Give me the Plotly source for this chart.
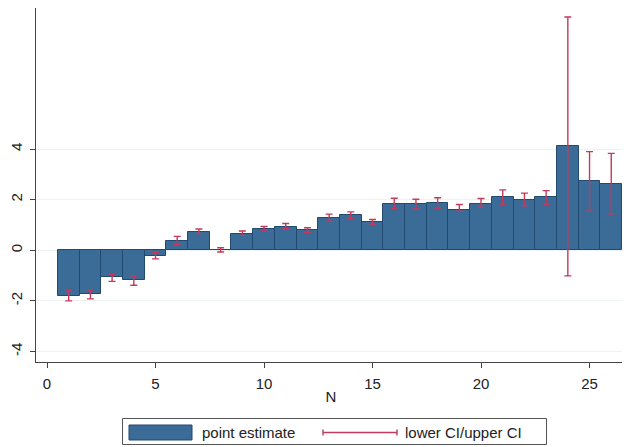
import plotly.graph_objects as go

N = list(range(1, 27))
estimate = [-1.80, -1.73, -1.06, -1.19, -0.21, 0.35, 0.72, 0.03, 0.66, 0.83,
            0.94, 0.79, 1.27, 1.39, 1.12, 1.84, 1.82, 1.88, 1.61, 1.84,
            2.09, 2.00, 2.09, 4.11, 2.72, 2.64]
upper_ci = [-1.60, -1.57, -0.96, -1.02, -0.08, 0.55, 0.84, 0.10, 0.76, 0.94,
            1.06, 0.89, 1.43, 1.52, 1.22, 2.06, 2.02, 2.08, 1.81, 2.05,
            2.39, 2.26, 2.36, 9.22, 3.90, 3.83]
lower_ci = [-2.00, -1.92, -1.23, -1.38, -0.34, 0.22, 0.66, -0.07, 0.59, 0.76,
            0.85, 0.71, 1.15, 1.25, 1.02, 1.65, 1.63, 1.67, 1.55, 1.70,
            1.81, 1.76, 1.81, -1.01, 1.55, 1.44]
y_ticks = [-4, -2, 0, 2, 4]
y_tick_labels = ["-4", "-2", "0", "2", "4"]
x_ticks = [0, 5, 10, 15, 20, 25]

BAR = "#3b6b97"
EDGE = "#22496f"
CI = "#c33a5c"
FONT = "Liberation Sans, Arial, sans-serif"

err_plus = [u - e for u, e in zip(upper_ci, estimate)]
err_minus = [e - l for e, l in zip(estimate, lower_ci)]

fig = go.Figure()
fig.add_trace(go.Bar(
    x=N, y=estimate, width=1.0,
    marker=dict(color=BAR, line=dict(color=EDGE, width=1)),
    error_y=dict(type="data", symmetric=False, array=err_plus, arrayminus=err_minus,
                 color=CI, thickness=1.4, width=3.5),
    name="point estimate", showlegend=False,
))

# page is offset by the 8px body margin; figure is sized to fit the window
W, H = 622, 439
L, R, T, B = 28, 4, 0, 85
# plot area in page coordinates: x 36..626, y 8..362
PL, PR, PT, PB = 36, 626, 8, 362


def px(x):
    return (x - PL) / (PR - PL)


def py(y):
    return (PB - y) / (PB - PT)


shapes = []
shapes.append(dict(type="rect", xref="paper", yref="paper",
                   x0=px(122.5), x1=px(546.5), y0=py(444.5), y1=py(418.5),
                   line=dict(color="#555555", width=1), fillcolor="white"))
shapes.append(dict(type="rect", xref="paper", yref="paper",
                   x0=px(129), x1=px(192), y0=py(440), y1=py(425),
                   line=dict(color=EDGE, width=1), fillcolor=BAR))
shapes.append(dict(type="line", xref="paper", yref="paper",
                   x0=px(323), x1=px(397), y0=py(432.5), y1=py(432.5),
                   line=dict(color=CI, width=1.4)))
for xx in (323, 397):
    shapes.append(dict(type="line", xref="paper", yref="paper",
                       x0=px(xx), x1=px(xx), y0=py(429.5), y1=py(435.5),
                       line=dict(color=CI, width=1.4)))

annotations = [
    dict(text="point estimate", xref="paper", yref="paper", x=px(200), y=py(432),
         xanchor="left", yanchor="middle", showarrow=False,
         font=dict(family=FONT, size=15, color="#222222")),
    dict(text="lower CI/upper CI", xref="paper", yref="paper", x=px(403), y=py(432),
         xanchor="left", yanchor="middle", showarrow=False,
         font=dict(family=FONT, size=15, color="#222222")),
]

fig.update_layout(
    width=W, height=H,
    margin=dict(l=L, r=R, t=T, b=B),
    paper_bgcolor="white", plot_bgcolor="white",
    bargap=0,
    font=dict(family=FONT, size=15, color="#222222"),
    shapes=shapes, annotations=annotations,
    showlegend=False,
)
fig.update_xaxes(
    range=[-0.507, 26.68], tickvals=x_ticks, ticks="outside", ticklen=5,
    tickcolor="#444444", showline=True, linecolor="#444444", linewidth=1,
    showgrid=False, zeroline=False, ticklabelstandoff=3,
    title=dict(text="N", font=dict(family=FONT, size=15), standoff=0),
    tickfont=dict(family=FONT, size=15), automargin=False,
)
fig.update_yaxes(
    range=[-4.415, 9.577], tickvals=y_ticks, ticktext=y_tick_labels,
    ticks="outside", ticklen=5, ticklabelstandoff=2,
    tickcolor="#444444", showline=True, linecolor="#444444", linewidth=1,
    showgrid=True, gridcolor="#edf2f5", gridwidth=1, zeroline=False,
    tickangle=-90, tickfont=dict(family=FONT, size=15), automargin=False,
)

fig.write_html("out.html")
